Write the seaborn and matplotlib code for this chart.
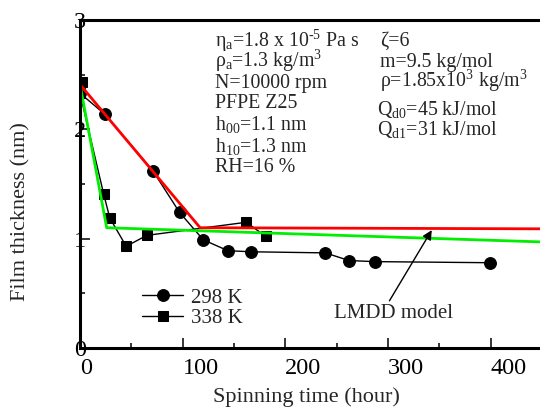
import numpy as np
import pandas as pd
import matplotlib
matplotlib.use("Agg")
import matplotlib.pyplot as plt
import seaborn as sns
from matplotlib.ticker import MultipleLocator

# ---- data ----
t_298 = [0, 24, 71, 97, 120, 144, 167, 239, 262, 287, 399]
h_298 = [2.33, 2.14, 1.62, 1.24, 0.99, 0.89, 0.88, 0.87, 0.80, 0.79, 0.78]
t_338 = [2, 0, 23, 29, 45, 65, 162, 181]
h_338 = [2.43, 2.33, 1.41, 1.19, 0.93, 1.03, 1.15, 1.02]
t_red = [0, 117, 450]
h_red = [2.41, 1.10, 1.09]
t_green = [0, 26, 450]
h_green = [2.41, 1.10, 0.97]
series_labels = ["298 K", "338 K"]
xticks = [0, 100, 200, 300, 400]
yticks = [0, 1, 2, 3]

sns.set_theme(style="ticks")
plt.rcParams["font.family"] = ["Liberation Serif", "DejaVu Serif"]
plt.rcParams["mathtext.fontset"] = "custom"
plt.rcParams["mathtext.rm"] = "Liberation Serif"
plt.rcParams["mathtext.it"] = "Liberation Serif:italic"
plt.rcParams["mathtext.bf"] = "Liberation Serif:bold"

fig = plt.figure(figsize=(5.4, 4.12), dpi=100)
ax = fig.add_axes([80/540, 1-348/412, 461/540, 328/412])

d298 = pd.DataFrame({"t": t_298, "h": h_298})
d338 = pd.DataFrame({"t": t_338, "h": h_338})
sns.lineplot(data=d298, x="t", y="h", ax=ax, color="black", lw=1.0, marker="o",
             markersize=8.5, markeredgecolor="black", sort=False, label=series_labels[0])
sns.lineplot(data=d338, x="t", y="h", ax=ax, color="black", lw=1.0, marker="s",
             markersize=7.5, markeredgecolor="black", sort=False, label=series_labels[1])
sns.lineplot(x=t_green, y=h_green, ax=ax, color="#00ee00", lw=2.0, sort=False, legend=False)
sns.lineplot(x=t_red, y=h_red, ax=ax, color="#ff0000", lw=2.0, sort=False, legend=False)

ax.set_xlim(0, 449)
ax.set_ylim(0, 3)
ax.set_xticks(xticks)
ax.set_yticks(yticks)
ax.xaxis.set_minor_locator(MultipleLocator(50))
ax.yaxis.set_minor_locator(MultipleLocator(0.5))
ax.tick_params(which="both", direction="in", width=1.1, colors="black")
ax.tick_params(which="major", length=7.2, labelsize=17.5)
ax.tick_params(which="minor", length=3.6)
ax.tick_params(axis="y", pad=0)
ax.tick_params(axis="x", pad=7)
for lab in ax.get_yticklabels():
    lab.set_ha("center")
for lab in ax.get_xticklabels():
    lab.set_ha("left")
for s in ["left", "bottom", "top"]:
    ax.spines[s].set_linewidth(2.2)
    ax.spines[s].set_color("black")
ax.spines["right"].set_visible(False)
ax.set_xlabel("")
ax.set_ylabel("")

fig.text(306/540, 1-397/412, "Spinning time (hour)", ha="center", va="center", fontsize=16)
fig.text(21/540, 1-212/412, "Film thickness (nm)", ha="center", va="center",
         rotation=90, fontsize=16)

leg = ax.legend(loc="lower left", bbox_to_anchor=(0.134, 0.06), frameon=False,
                fontsize=15, handlelength=2.0, handletextpad=0.35, labelspacing=0.05,
                borderpad=0, borderaxespad=0)

fs = 14.3
left = [
    (47, "η$_{\\mathrm{a}}$=1.8 x 10$^{\\mathrm{\u2010}5}$ Pa s"),
    (67, "ρ$_{\\mathrm{a}}$=1.3 kg/m$^{3}$"),
    (88, "N=10000 rpm"),
    (108, "PFPE Z25"),
    (130, "h$_{00}$=1.1 nm"),
    (152, "h$_{10}$=1.3 nm"),
    (172, "RH=16 %"),
]
right = [
    (380, 46, "ζ=6"),
    (380, 67, "m=9.5 kg/mol"),
    (380, 87, "ρ=1.85x10$^{3}$ kg/m$^{3}$"),
    (377, 115, "Q$_{\\mathrm{d0}}$=45 kJ/mol"),
    (377, 135, "Q$_{\\mathrm{d1}}$=31 kJ/mol"),
]
for y, s in left:
    fig.text(215/540, 1-y/412, s, ha="left", va="baseline", fontsize=fs)
for x, y, s in right:
    fig.text(x/540, 1-y/412, s, ha="left", va="baseline", fontsize=fs)

ax.annotate("", xy=(344, 1.10), xytext=(300, 0.41),
            arrowprops=dict(arrowstyle="-|>", color="black", lw=1.0,
                            mutation_scale=14))
ax.text(305, 0.32, "LMDD model", ha="center", va="center", fontsize=15)

fig.savefig("out.png", dpi=100)
